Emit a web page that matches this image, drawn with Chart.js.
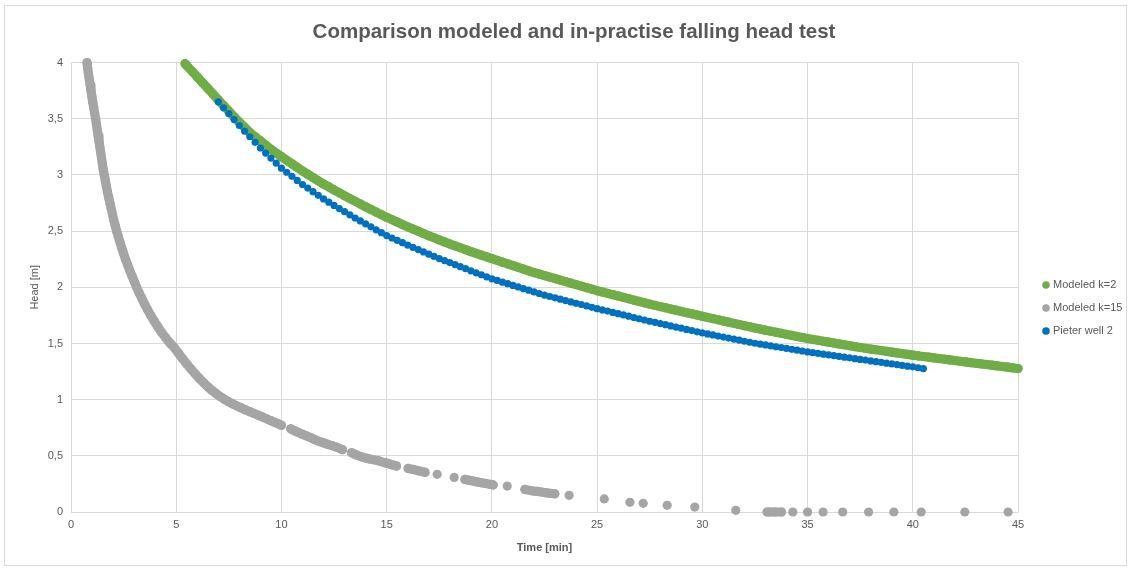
<!DOCTYPE html>
<html>
<head>
<meta charset="utf-8">
<script src="https://cdn.jsdelivr.net/npm/chart.js@4.4.1/dist/chart.umd.min.js"></script>
<style>
  body { margin: 0; background: #fff; }
  #wrap { position: absolute; left: 0; top: 0; width: 1130px; height: 570px; }
</style>
</head>
<body>
<div id="wrap"><canvas id="chart" width="1130" height="570"></canvas></div>
<script>
// series labels
var seriesNames = ['Modeled k=2', 'Modeled k=15', 'Pieter well 2'];

// [time (min), head (m)]
var modeledK2 = [
  [5.42,3.990],[5.5,3.974],[5.75,3.923],[6.0,3.872],[6.25,3.821],[6.5,3.771],[6.75,3.720],[7.0,3.669],
  [7.25,3.618],[7.5,3.568],[7.75,3.517],[8.0,3.470],[8.25,3.424],[8.5,3.378],[8.75,3.340],[9.0,3.303],
  [9.25,3.265],[9.5,3.228],[9.75,3.195],[10.0,3.163],[10.25,3.131],[10.5,3.099],[10.75,3.067],[11.0,3.035],
  [11.25,3.006],[11.5,2.977],[11.75,2.948],[12.0,2.920],[12.25,2.894],[12.5,2.867],[12.75,2.841],[13.0,2.815],
  [13.25,2.790],[13.5,2.766],[13.75,2.741],[14.0,2.716],[14.25,2.693],[14.5,2.670],[14.75,2.646],[15.0,2.623],
  [15.25,2.602],[15.5,2.581],[15.75,2.559],[16.0,2.538],[16.25,2.518],[16.5,2.499],[16.75,2.479],[17.0,2.459],
  [17.25,2.441],[17.5,2.422],[17.75,2.404],[18.0,2.386],[18.25,2.369],[18.5,2.352],[18.75,2.335],[19.0,2.318],
  [19.25,2.302],[19.5,2.286],[19.75,2.271],[20.0,2.255],[20.25,2.240],[20.5,2.224],[20.75,2.209],[21.0,2.193],
  [21.25,2.178],[21.5,2.162],[21.75,2.147],[22.0,2.131],[22.25,2.118],[22.5,2.104],[22.75,2.091],[23.0,2.078],
  [23.25,2.064],[23.5,2.051],[23.75,2.037],[24.0,2.024],[24.25,2.011],[24.5,1.997],[24.75,1.984],[25.0,1.970],
  [25.25,1.958],[25.5,1.946],[25.75,1.934],[26.0,1.922],[26.25,1.910],[26.5,1.898],[26.75,1.886],[27.0,1.874],
  [27.25,1.862],[27.5,1.850],[27.75,1.839],[28.0,1.828],[28.25,1.818],[28.5,1.807],[28.75,1.796],[29.0,1.785],
  [29.25,1.774],[29.5,1.764],[29.75,1.753],[30.0,1.742],[30.25,1.732],[30.5,1.721],[30.75,1.711],[31.0,1.700],
  [31.25,1.690],[31.5,1.679],[31.75,1.669],[32.0,1.658],[32.25,1.648],[32.5,1.637],[32.75,1.628],[33.0,1.618],
  [33.25,1.609],[33.5,1.600],[33.75,1.591],[34.0,1.581],[34.25,1.572],[34.5,1.563],[34.75,1.553],[35.0,1.544],
  [35.25,1.536],[35.5,1.528],[35.75,1.520],[36.0,1.512],[36.25,1.504],[36.5,1.496],[36.75,1.488],[37.0,1.480],
  [37.25,1.472],[37.5,1.464],[37.75,1.457],[38.0,1.450],[38.25,1.444],[38.5,1.437],[38.75,1.430],[39.0,1.423],
  [39.25,1.416],[39.5,1.410],[39.75,1.403],[40.0,1.396],[40.25,1.390],[40.5,1.384],[40.75,1.378],[41.0,1.372],
  [41.25,1.366],[41.5,1.360],[41.75,1.354],[42.0,1.348],[42.25,1.342],[42.5,1.336],[42.75,1.330],[43.0,1.324],
  [43.25,1.319],[43.5,1.313],[43.75,1.307],[44.0,1.301],[44.25,1.295],[44.5,1.289],[44.75,1.283],[45.0,1.277]
];

var modeledK15 = [
  [0.76,4.00],[0.79,3.95],[0.83,3.90],[0.87,3.85],[0.91,3.80],[0.95,3.75],[0.99,3.70],[1.03,3.65],
  [1.08,3.60],[1.12,3.55],[1.17,3.50],[1.21,3.45],[1.25,3.40],[1.29,3.35],[1.33,3.30],[1.37,3.25],
  [1.41,3.20],[1.45,3.15],[1.49,3.10],[1.53,3.05],[1.58,3.00],[1.63,2.95],[1.68,2.90],[1.73,2.85],
  [1.79,2.80],[1.85,2.75],[1.91,2.70],[1.97,2.65],[2.03,2.60],[2.10,2.55],[2.17,2.50],[2.25,2.45],
  [2.33,2.40],[2.41,2.35],[2.50,2.30],[2.59,2.25],[2.69,2.20],[2.79,2.15],[2.90,2.10],[3.01,2.05],
  [3.12,2.00],[3.24,1.95],[3.37,1.90],[3.50,1.85],[3.64,1.80],[3.79,1.75],[3.95,1.70],[4.12,1.65],
  [4.30,1.60],[4.50,1.55],[4.72,1.50],
  [4.9,1.465],[5.1,1.415],[5.3,1.365],[5.5,1.318],[5.7,1.273],[5.9,1.230],[6.1,1.189],[6.3,1.151],
  [6.5,1.115],[6.7,1.082],[6.9,1.053],[7.1,1.026],[7.3,1.002],[7.5,0.980],[7.7,0.961],[7.9,0.943],
  [8.1,0.926],[8.3,0.909],[8.5,0.893],[8.7,0.877],[8.9,0.861],[9.1,0.845],[9.3,0.829],[9.5,0.813],
  [9.7,0.797],[9.85,0.785],[10.0,0.772],
  [10.44,0.740],[10.6,0.725],[10.8,0.708],[11.0,0.692],[11.2,0.676],[11.4,0.660],[11.6,0.644],[11.8,0.628],
  [12.0,0.615],[12.2,0.602],[12.4,0.590],[12.6,0.578],[12.9,0.555],
  [13.33,0.527],[13.45,0.518],[13.57,0.507],[13.73,0.496],[13.89,0.486],[14.05,0.478],[14.2,0.471],
  [14.6,0.456],[14.92,0.438],[15.04,0.433],[15.15,0.427],[15.3,0.418],[15.47,0.409],
  [16.02,0.388],[16.26,0.379],[16.5,0.367],[16.82,0.353],[17.4,0.335],[18.21,0.308],
  [18.72,0.290],[18.9,0.283],[19.1,0.276],[19.3,0.268],[19.5,0.261],[19.7,0.254],[19.9,0.247],[20.06,0.241],
  [20.73,0.231],[21.57,0.201],
  [21.96,0.187],[22.15,0.183],[22.35,0.178],[22.55,0.172],[22.75,0.167],[22.99,0.162],
  [23.67,0.148],[25.34,0.116],[26.56,0.086],[27.19,0.077],[28.33,0.059],[29.64,0.044],[31.59,0.015],
  [33.08,0],[33.2,0],[33.45,0],[33.76,0],[34.3,0],[35.0,0],[35.74,0],[36.67,0],
  [37.9,0],[39.1,0],[40.4,0],[42.47,0],[44.53,0]
];

var pieterWell2 = [
  [7.0,3.650],[7.25,3.598],[7.5,3.545],[7.75,3.493],[8.0,3.440],[8.25,3.390],[8.5,3.340],[8.75,3.290],
  [9.0,3.240],[9.25,3.195],[9.5,3.150],[9.75,3.105],[10.0,3.060],[10.25,3.024],[10.5,2.988],[10.75,2.951],
  [11.0,2.915],[11.25,2.883],[11.5,2.851],[11.75,2.819],[12.0,2.787],[12.25,2.758],[12.5,2.729],[12.75,2.701],
  [13.0,2.673],[13.25,2.645],[13.5,2.617],[13.75,2.591],[14.0,2.565],[14.25,2.538],[14.5,2.512],[14.75,2.486],
  [15.0,2.460],[15.25,2.439],[15.5,2.418],[15.75,2.397],[16.0,2.376],[16.25,2.356],[16.5,2.336],[16.75,2.315],
  [17.0,2.295],[17.25,2.276],[17.5,2.256],[17.75,2.238],[18.0,2.220],[18.25,2.202],[18.5,2.184],[18.75,2.166],
  [19.0,2.147],[19.25,2.129],[19.5,2.111],[19.75,2.093],[20.0,2.075],[20.25,2.061],[20.5,2.046],[20.75,2.032],
  [21.0,2.017],[21.25,2.003],[21.5,1.988],[21.75,1.974],[22.0,1.959],[22.25,1.945],[22.5,1.930],[22.75,1.918],
  [23.0,1.906],[23.25,1.894],[23.5,1.882],[23.75,1.870],[24.0,1.858],[24.25,1.846],[24.5,1.834],[24.75,1.822],
  [25.0,1.810],[25.25,1.799],[25.5,1.788],[25.75,1.776],[26.0,1.765],[26.25,1.754],[26.5,1.743],[26.75,1.731],
  [27.0,1.720],[27.25,1.709],[27.5,1.698],[27.75,1.688],[28.0,1.677],[28.25,1.667],[28.5,1.656],[28.75,1.646],
  [29.0,1.636],[29.25,1.625],[29.5,1.615],[29.75,1.604],[30.0,1.594],[30.25,1.585],[30.5,1.576],[30.75,1.566],
  [31.0,1.557],[31.25,1.548],[31.5,1.539],[31.75,1.530],[32.0,1.520],[32.25,1.511],[32.5,1.502],[32.75,1.494],
  [33.0,1.487],[33.25,1.479],[33.5,1.471],[33.75,1.464],[34.0,1.456],[34.25,1.448],[34.5,1.440],[34.75,1.433],
  [35.0,1.425],[35.25,1.418],[35.5,1.412],[35.75,1.405],[36.0,1.398],[36.25,1.392],[36.5,1.385],[36.75,1.378],
  [37.0,1.372],[37.25,1.365],[37.5,1.358],[37.75,1.352],[38.0,1.345],[38.25,1.338],[38.5,1.332],[38.75,1.325],
  [39.0,1.318],[39.25,1.312],[39.5,1.305],[39.75,1.298],[40.0,1.292],[40.25,1.284],[40.5,1.276]
];

var timeTicks = [0, 5, 10, 15, 20, 25, 30, 35, 40, 45];
var headTicks = [0, 0.5, 1, 1.5, 2, 2.5, 3, 3.5, 4];

var textGray = '#595959';
var gridGray = '#d9d9d9';
var fontName = "'Liberation Sans', Arial, sans-serif";

function toXY(pairs){
    return pairs.map(p => ({x: p[0], y: p[1]}));
}

// markers that touch each other merge into one smooth band (like the dense Excel markers)
function bandWhereDense(color){
    return ctx => {
        var d = Math.hypot(ctx.p1.x - ctx.p0.x, ctx.p1.y - ctx.p0.y);
        return d < 9 ? color : 'transparent';
    };
}

// outer frame of the chart
var framePlugin = {
    id: 'frame',
    beforeDraw(chart){
        var ctx = chart.ctx;
        ctx.save();
        ctx.fillStyle = '#fff';
        ctx.fillRect(0, 0, chart.width, chart.height);
        ctx.strokeStyle = gridGray;
        ctx.lineWidth = 1;
        ctx.strokeRect(4.5, 5.5, 1122, 560);
        ctx.restore();
    }
};

// legend on the right, next to the plot
var sideLegend = {
    id: 'sideLegend',
    afterDraw(chart){
        var ctx = chart.ctx;
        ctx.save();
        ctx.font = '11px ' + fontName;
        ctx.textBaseline = 'middle';
        chart.data.datasets.forEach((ds, i) => {
            var y = 285 + i * 23;
            ctx.fillStyle = ds.backgroundColor;
            ctx.beginPath();
            ctx.arc(1046, y, 3.8, 0, Math.PI * 2);
            ctx.fill();
            ctx.fillStyle = textGray;
            ctx.fillText(ds.label, 1053, y);
        });
        ctx.restore();
    }
};

new Chart(document.getElementById('chart'), {
    type: 'scatter',
    data: {
        datasets: [
            { label: seriesNames[0], data: toXY(modeledK2), backgroundColor: '#70ad47',
              pointRadius: 4.6, pointBorderWidth: 0, order: 2, clip: false,
              showLine: true, borderWidth: 9.2, borderColor: '#70ad47',
              borderCapStyle: 'round', borderJoinStyle: 'round',
              segment: { borderColor: bandWhereDense('#70ad47') } },
            { label: seriesNames[1], data: toXY(modeledK15), backgroundColor: '#a5a5a5',
              pointRadius: 4.6, pointBorderWidth: 0, order: 3, clip: false,
              showLine: true, borderWidth: 9.2, borderColor: '#a5a5a5',
              borderCapStyle: 'round', borderJoinStyle: 'round',
              segment: { borderColor: bandWhereDense('#a5a5a5') } },
            { label: seriesNames[2], data: toXY(pieterWell2), backgroundColor: '#0070c0',
              pointRadius: 3.6, pointBorderWidth: 0, borderWidth: 0, order: 1, clip: false }
        ]
    },
    options: {
        responsive: false,
        animation: false,
        events: [],
        layout: { padding: { left: 18, right: 0, top: 0, bottom: 0 } },
        plugins: {
            legend: { display: false },
            tooltip: { enabled: false },
            title: {
                display: true,
                text: 'Comparison modeled and in-practise falling head test',
                color: textGray,
                font: { family: fontName, size: 20.5, weight: 'bold' },
                padding: { top: 20, bottom: 18 }
            }
        },
        scales: {
            x: {
                type: 'linear',
                min: 0, max: 45,
                afterBuildTicks: s => { s.ticks = timeTicks.map(v => ({value: v})); },
                afterFit: s => { s.height = 58; },
                grid: { color: gridGray, drawTicks: false },
                border: { color: gridGray },
                ticks: { color: textGray, padding: 6, font: { family: fontName, size: 11 } },
                title: { display: true, text: 'Time [min]', color: textGray,
                         font: { family: fontName, size: 11, weight: 'bold' }, padding: { bottom: 15 } }
            },
            y: {
                type: 'linear',
                min: 0, max: 4,
                afterBuildTicks: s => { s.ticks = headTicks.map(v => ({value: v})); },
                afterFit: s => { s.width = 53; },
                grid: { color: gridGray, drawTicks: false },
                border: { color: gridGray },
                ticks: { color: textGray, padding: 8, font: { family: fontName, size: 11 },
                         callback: v => String(v).replace('.', ',') },
                title: { display: true, text: 'Head [m]', color: textGray,
                         font: { family: fontName, size: 11 }, padding: { top: 10 } }
            },
            // empty box on the right that keeps room for the legend
            legendSpace: {
                type: 'linear',
                position: 'right',
                display: true,
                afterFit: s => { s.width = 112; },
                grid: { display: false, drawTicks: false },
                border: { display: false },
                ticks: { display: false },
                title: { display: false }
            }
        }
    },
    plugins: [framePlugin, sideLegend]
});
</script>
</body>
</html>
